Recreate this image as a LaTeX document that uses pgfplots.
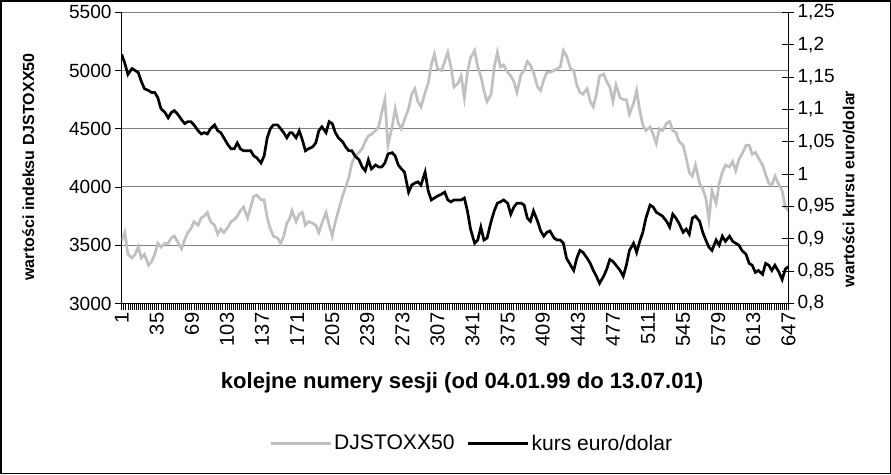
\documentclass[border=0pt]{standalone}
\usepackage{pgfplots}
\pgfplotsset{compat=1.18}
\usepackage{fontspec}
\setmainfont{Liberation Sans}
\definecolor{sgray}{HTML}{C0C0C0}
\definecolor{ggray}{HTML}{808080}
\begin{document}
\begin{tikzpicture}
\begin{axis}[
  name=main,
  at={(0bp,0bp)}, anchor=south west,
  width=664bp, height=290bp, scale only axis,
  xmin=1, xmax=647, ymin=3000, ymax=5500,
  axis x line*=bottom, axis y line*=left,
  axis line style={black, line width=1bp},
  xtick={1,35,...,647},
  minor xtick={1,3,...,647},
  ytick={3000,3500,...,5500},
  tick align=outside,
  major tick length=7bp, minor tick length=7bp,
  every tick/.style={black, line width=0.8bp},
  ymajorgrids, grid style={ggray, line width=1bp},
  /pgf/number format/assume math mode=true,
  /pgf/number format/1000 sep={},
  xticklabel style={rotate=90, anchor=east, font=\fontsize{20bp}{24bp}\selectfont, inner sep=2bp},
  yticklabel style={font=\fontsize{19bp}{22bp}\selectfont, inner sep=3bp},
]
\addplot[sgray, line width=2.7bp] coordinates {
(1,3540)(4,3609)(7,3422)(11,3391)(14,3422)(17,3484)(20,3391)(23,3422)(27,3328)(30,3359)(33,3422)(36,3516)(39,3484)(43,3516)(46,3516)(49,3562)(52,3578)(55,3531)(59,3469)(62,3547)(65,3609)(68,3641)(71,3703)(75,3672)(78,3734)(81,3750)(84,3781)(87,3703)(91,3672)(94,3594)(97,3641)(100,3609)(104,3656)(107,3703)(110,3719)(113,3750)(116,3797)(119,3828)(123,3734)(126,3828)(129,3922)(132,3930)(136,3891)(139,3891)(142,3734)(145,3641)(148,3578)(152,3562)(155,3516)(158,3578)(161,3688)(164,3734)
(166,3797)(170,3703)(173,3766)(176,3781)(179,3672)(182,3703)(186,3688)(189,3672)(192,3609)(195,3688)(199,3781)(202,3672)(205,3578)(208,3703)(211,3797)(215,3922)(218,4000)(221,4078)(224,4203)(227,4266)(231,4297)(234,4328)(237,4391)(240,4438)(243,4453)(247,4484)(250,4516)(253,4641)(256,4750)(259,4359)(263,4516)(266,4672)(269,4547)(272,4500)(275,4578)(279,4672)(282,4797)(285,4844)(288,4734)(291,4688)(295,4812)(298,4891)(301,5047)(304,5141)(307,5016)(311,5000)(314,5078)(317,5156)(320,5031)(323,4859)
(327,4891)(330,4953)(333,4766)(336,4984)(339,5109)(343,5172)(346,5031)(349,4953)(352,4828)(355,4734)(359,4797)(362,5031)(365,5156)(368,5031)(371,5047)(375,4984)(378,4953)(381,4906)(384,4812)(388,4969)(391,5000)(394,5078)(397,5047)(400,4984)(404,4859)(407,4828)(410,4922)(413,4984)(416,4984)(420,5000)(423,5016)(426,5031)(429,5172)(432,5125)(436,5016)(439,5000)(442,4875)(445,4812)(448,4797)(452,4844)(455,4734)(458,4688)(461,4797)(464,4953)(468,4969)(471,4906)(474,4859)(477,4734)(480,4875)(484,4766)(487,4750)
(490,4750)(493,4625)(497,4719)(500,4828)(503,4656)(506,4531)(509,4484)(513,4516)(516,4453)(519,4375)(522,4500)(525,4484)(529,4547)(532,4562)(535,4484)(538,4469)(541,4391)(545,4359)(548,4250)(551,4125)(554,4094)(557,4188)(561,4031)(564,3984)(567,3906)(570,3719)(573,3969)(577,3859)(580,4031)(583,4125)(586,4188)(590,4172)(593,4219)(596,4141)(599,4234)(602,4281)(606,4359)(609,4359)(612,4281)(615,4297)(618,4250)(622,4188)(625,4109)(628,4031)(631,4016)(634,4094)(638,4016)(641,3969)(644,3828)(647,3797)
};
\end{axis}
\begin{axis}[
  at={(main.south west)}, anchor=south west,
  width=664bp, height=290bp, scale only axis,
  xmin=1, xmax=647, ymin=0.8, ymax=1.25,
  axis x line=none, axis y line*=right,
  axis line style={black, line width=1bp},
  ytick={0.8,0.85,0.9,0.95,1,1.05,1.1,1.15,1.2,1.25},
  yticklabels={{0,8},{0,85},{0,9},{0,95},{1},{1,05},{1,1},{1,15},{1,2},{1,25}},
  ytick align=center, major tick length=12bp,
  every tick/.style={black, line width=0.8bp},
  yticklabel style={font=\fontsize{19bp}{22bp}\selectfont, inner sep=3bp},
  legend style={at={(0.525,-0.48)}, anchor=center, draw=none, fill=none,
    font=\fontsize{21bp}{25bp}\selectfont, legend columns=2,
    /tikz/every even column/.append style={column sep=10bp}},
  legend cell align=left,
  legend image code/.code={\draw[#1] (0bp,0bp) -- (60bp,0bp);},
]
\addlegendimage{sgray, line width=2.7bp}
\addlegendentry{DJSTOXX50}
\addplot[black, line width=2.7bp] coordinates {
(1,1.185)(4,1.171)(7,1.154)(11,1.163)(14,1.160)(17,1.157)(20,1.143)(23,1.132)(27,1.129)(30,1.126)(33,1.126)(36,1.118)(39,1.101)(43,1.095)(46,1.087)(49,1.095)(52,1.098)(55,1.093)(59,1.084)(62,1.078)(65,1.081)(68,1.081)(71,1.076)(75,1.067)(78,1.062)(81,1.064)(84,1.062)(87,1.070)(91,1.076)(94,1.067)(97,1.064)(100,1.056)(104,1.045)(107,1.039)(110,1.039)(113,1.048)(116,1.039)(119,1.036)(123,1.036)(126,1.036)(129,1.028)(132,1.025)(136,1.017)(139,1.028)(142,1.056)(145,1.070)(148,1.076)(152,1.076)(155,1.070)(158,1.064)(161,1.056)(164,1.064)
(166,1.064)(170,1.056)(173,1.067)(176,1.053)(179,1.036)(182,1.039)(186,1.042)(189,1.048)(192,1.067)(195,1.073)(199,1.064)(202,1.081)(205,1.078)(208,1.064)(211,1.056)(215,1.050)(218,1.042)(221,1.036)(224,1.036)(227,1.028)(231,1.022)(234,1.011)(237,1.005)(240,1.022)(243,1.008)(247,1.014)(250,1.011)(253,1.011)(256,1.017)(259,1.031)(263,1.033)(266,1.028)(269,1.014)(272,1.008)(275,1.003)(279,0.972)(282,0.983)(285,0.986)(288,0.988)(291,0.983)(295,1.003)(298,0.974)(301,0.960)(304,0.963)(307,0.966)(311,0.969)(314,0.972)(317,0.960)(320,0.957)(323,0.960)
(327,0.960)(330,0.960)(333,0.963)(336,0.943)(339,0.915)(343,0.893)(346,0.898)(349,0.918)(352,0.898)(355,0.901)(359,0.927)(362,0.943)(365,0.955)(368,0.957)(371,0.960)(375,0.955)(378,0.938)(381,0.949)(384,0.955)(388,0.955)(391,0.952)(394,0.932)(397,0.927)(400,0.943)(404,0.927)(407,0.912)(410,0.904)(413,0.910)(416,0.912)(420,0.901)(423,0.898)(426,0.898)(429,0.893)(432,0.870)(436,0.859)(439,0.851)(442,0.870)(445,0.882)(448,0.879)(452,0.870)(455,0.862)(458,0.851)(461,0.842)(464,0.831)(468,0.842)(471,0.853)(474,0.868)(477,0.865)(480,0.859)(484,0.851)(487,0.842)
(490,0.859)(493,0.882)(497,0.893)(500,0.879)(503,0.896)(506,0.910)(509,0.932)(513,0.952)(516,0.949)(519,0.941)(522,0.938)(525,0.935)(529,0.927)(532,0.918)(535,0.938)(538,0.932)(541,0.924)(545,0.910)(548,0.915)(551,0.907)(554,0.932)(557,0.935)(561,0.927)(564,0.910)(567,0.898)(570,0.887)(573,0.882)(577,0.898)(580,0.890)(583,0.904)(586,0.896)(590,0.904)(593,0.896)(596,0.893)(599,0.890)(602,0.882)(606,0.876)(609,0.862)(612,0.859)(615,0.848)(618,0.851)(622,0.845)(625,0.862)(628,0.859)(631,0.851)(634,0.859)(638,0.848)(641,0.837)(644,0.853)(647,0.857)
};
\addlegendentry{kurs euro/dolar}
\end{axis}
\begin{scope}[shift={(main.south west)}]
\node[rotate=90, font=\bfseries\fontsize{16bp}{19bp}\selectfont] at (-93bp,136bp) {wartości indeksu DJSTOXX50};
\node[rotate=90, font=\bfseries\fontsize{16bp}{19bp}\selectfont] at (724bp,114bp) {wartości kursu euro/dolar};
\node[font=\bfseries\fontsize{22bp}{26bp}\selectfont] at (339bp,-79bp) {kolejne numery sesji (od 04.01.99 do 13.07.01)};
\draw[line width=1.5bp] (-120.5bp,-169.5bp) rectangle (765.5bp,301.5bp);
\end{scope}
\end{tikzpicture}
\end{document}
